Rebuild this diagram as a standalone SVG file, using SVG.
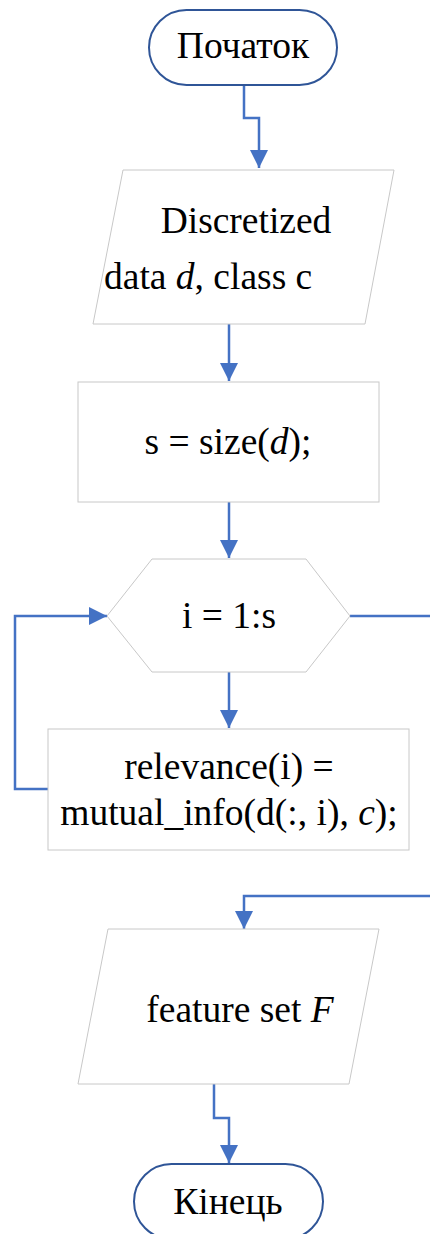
<svg xmlns="http://www.w3.org/2000/svg" width="430" height="1234" viewBox="0 0 430 1234">
<defs>
<style>
.term{fill:#fff;stroke:#2F5597;stroke-width:2}
.node{fill:#fff;stroke:#c8c8c8;stroke-width:1}
text{font-family:'Liberation Serif','Times New Roman',Times,serif;font-size:37.5px;fill:#000}
.t{text-anchor:middle}
.c{fill:none;stroke:#4472C4;stroke-width:2.5}
</style>
<marker id="ah" markerUnits="userSpaceOnUse" markerWidth="18" markerHeight="18" viewBox="0 0 18 18" refX="18" refY="9" orient="auto">
<path d="M0,0 L18,9 L0,18 Z" fill="#4472C4"/>
</marker>
</defs>
<g id="connectors">
<path class="c" d="M244,85 V118 H259 V168" marker-end="url(#ah)"/>
<path class="c" d="M229,324 V381" marker-end="url(#ah)"/>
<path class="c" d="M229,502 V558" marker-end="url(#ah)"/>
<path class="c" d="M229,672 V728" marker-end="url(#ah)"/>
<path class="c" d="M48,789 H15 V616 H107" marker-end="url(#ah)"/>
<path class="c" d="M350,616 H440 V896 H244 V929" marker-end="url(#ah)"/>
<path class="c" d="M214,1084 V1118 H229 V1163" marker-end="url(#ah)"/>
</g>
<g id="start">
<rect class="term" x="149" y="10" width="188" height="75" rx="37.5"/>
<text class="t" x="243" y="58">Початок</text>
</g>
<g id="input">
<polygon class="node" points="123,170 394,170 365,324 93,324"/>
<text class="t" x="246" y="233">Discretized</text>
<text x="104" y="289">data <tspan font-style="italic">d</tspan>, class c</text>
</g>
<g id="size">
<rect class="node" x="78" y="382" width="301" height="120"/>
<text class="t" x="228" y="454">s = size(<tspan font-style="italic">d</tspan>);</text>
</g>
<g id="loop">
<polygon class="node" points="152,559 306,559 350,616 306,672 152,672 107,616"/>
<text class="t" x="229" y="628">i = 1:s</text>
</g>
<g id="relevance">
<rect class="node" x="48" y="729" width="361" height="121"/>
<text class="t" x="229" y="779">relevance(i) =</text>
<text class="t" x="229" y="825">mutual_info(d(:, i), <tspan font-style="italic">c</tspan>);</text>
</g>
<g id="output">
<polygon class="node" points="108,929 379,929 349,1084 78,1084"/>
<text class="t" x="240" y="1022">feature set <tspan font-style="italic">F</tspan></text>
</g>
<g id="end">
<rect class="term" x="134" y="1164" width="189" height="75" rx="37.5"/>
<text class="t" x="228" y="1214">Кінець</text>
</g>
</svg>
